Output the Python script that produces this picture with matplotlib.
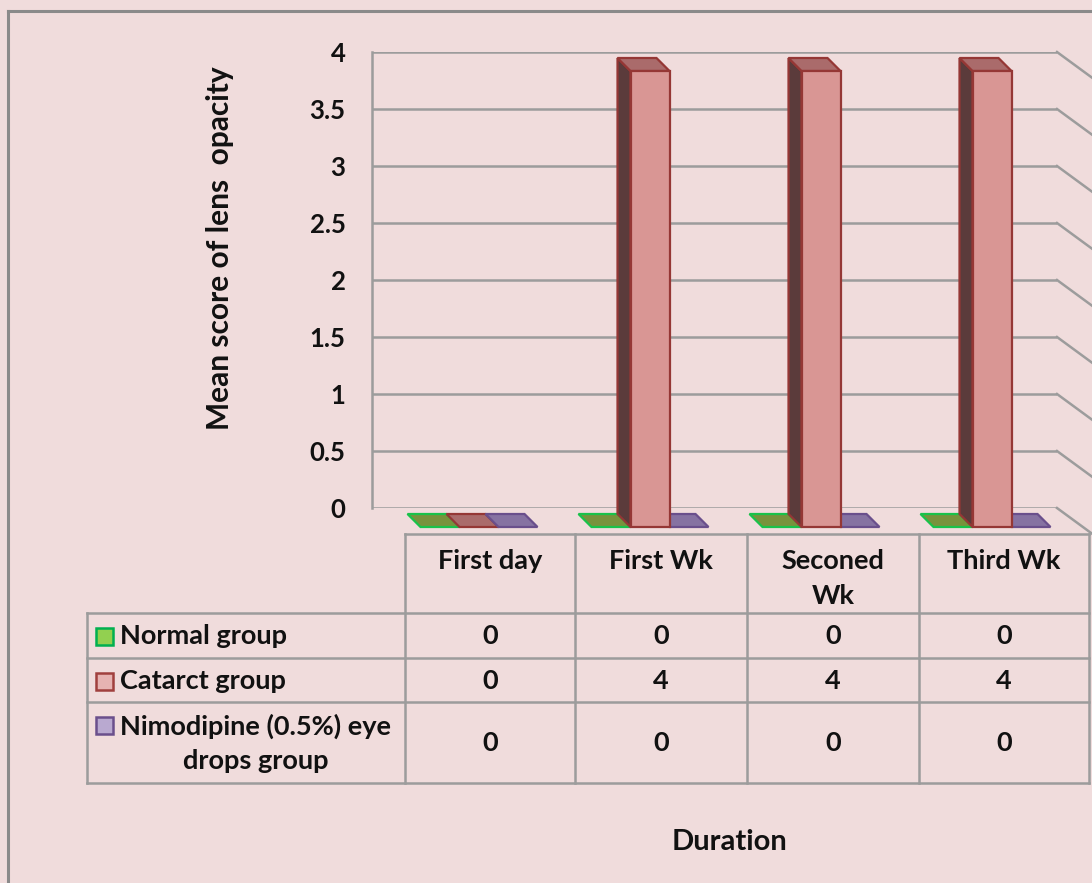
import matplotlib
matplotlib.use("Agg")
import matplotlib.pyplot as plt
from matplotlib.patches import Polygon, Rectangle
from matplotlib.lines import Line2D

# ---- data -------------------------------------------------------------
categories = ["First day", "First Wk", "Seconed\nWk", "Third Wk"]
series_names = ["Normal group", "Catarct group", "Nimodipine (0.5%) eye\ndrops group"]
normal_group = [0, 0, 0, 0]
cataract_group = [0, 4, 4, 4]
nimodipine_group = [0, 0, 0, 0]
y_ticks = [0, 0.5, 1, 1.5, 2, 2.5, 3, 3.5, 4]
y_label = "Mean score of lens  opacity"
x_label = "Duration"

series_values = [normal_group, cataract_group, nimodipine_group]

# ---- styling ----------------------------------------------------------
W, H, DPI = 1092, 883, 100
BG = "#F0DCDC"
GRID = "#9C9C9C"
FONT = ["Lato", "DejaVu Sans"]
FS_TICK = 18.5
FS_TBL = 19.5
FS_YLAB = 21.5
FS_XLAB = 21
TXT = "#111111"

# colours per series: front, side, top, edge, legend-key face
front_c = ["#92D050", "#D99694", "#B3A2C7"]
side_c = ["#3E6B1E", "#5B3B3B", "#4A3C5E"]
top_c = ["#77933C", "#AA6B6B", "#8672A2"]
edge_c = ["#19C24A", "#953735", "#6A4F8C"]
key_face = ["#92D050", "#E6B3B2", "#B9A9D0"]
key_edge = ["#00B050", "#A0403E", "#6A4F8C"]

plt.rcParams["font.family"] = FONT
plt.rcParams["font.weight"] = "bold"

fig = plt.figure(figsize=(W / DPI, H / DPI), dpi=DPI, facecolor=BG)


def fx(px):
    return px / W


def fy(py):
    return 1 - py / H


def fig_line(xs, ys, lw=1.8, color=GRID):
    fig.add_artist(Line2D([fx(x) for x in xs], [fy(y) for y in ys],
                          transform=fig.transFigure, color=color, lw=lw,
                          solid_capstyle="projecting"))


# outer chart frame
fig_line([8, 8], [11, 890], lw=2.2, color="#8A8A8A")
fig_line([8, 1100], [11, 11], lw=2.2, color="#8A8A8A")

# ---- back wall axes -----------------------------------------------------
WALL_L, WALL_R, WALL_T, WALL_B = 372, 1057, 52, 508
PX_X = 171.0                      # pixels per category
PX_Y = (WALL_B - WALL_T) / 4.0    # pixels per score unit

ax = fig.add_axes([fx(WALL_L), fy(WALL_B), (WALL_R - WALL_L) / W, (WALL_B - WALL_T) / H])
ax.set_facecolor("none")
x0 = -(466 - WALL_L) / PX_X
ax.set_xlim(x0, x0 + (WALL_R - WALL_L) / PX_X)
ax.set_ylim(0, 4)
for name, sp in ax.spines.items():
    sp.set_visible(name == "left")
ax.spines["left"].set_color(GRID)
ax.spines["left"].set_linewidth(1.8)
ax.set_xticks([])
ax.set_yticks(y_ticks)
ax.set_yticklabels([f"{t:g}" for t in y_ticks], fontsize=FS_TICK, color=TXT,
                   fontweight="bold")
ax.tick_params(axis="y", length=0, pad=19)

ytrans = ax.get_yaxis_transform()
for t in y_ticks:
    ax.axhline(t, color=GRID, lw=1.8, zorder=1)
    # side wall continuation to the right
    ax.add_line(Line2D([1.0, 1.0 + 45 / (WALL_R - WALL_L)], [t, t - 33 / PX_Y],
                       transform=ytrans, color=GRID, lw=1.8, clip_on=False))

ax.set_ylabel(y_label, fontsize=FS_YLAB, color=TXT, fontweight="bold", labelpad=0)
ax.yaxis.set_label_coords((234 - WALL_L) / (WALL_R - WALL_L), 0.57)

# ---- 3-D style columns --------------------------------------------------
bar_w = 39 / PX_X
dx = 13 / PX_X        # depth shift of front face (right)
dy = -13 / PX_Y       # depth shift of front face (down)
base = -6 / PX_Y      # back edge sits just in front of the wall

for s, vals in enumerate(series_values):
    for i, v in enumerate(vals):
        left = i + (s - 1) * bar_w - bar_w / 2
        right = left + bar_w
        z = 3 + i * 0.01
        if v > 0:
            side = Polygon([(left, base), (left, base + v),
                            (left + dx, base + v + dy), (left + dx, base + dy)],
                           closed=True, facecolor=side_c[s], edgecolor=edge_c[s],
                           lw=1.6, clip_on=False, zorder=z)
            ax.add_patch(side)
        top = Polygon([(left, base + v), (right, base + v),
                       (right + dx, base + v + dy), (left + dx, base + v + dy)],
                      closed=True, facecolor=top_c[s], edgecolor=edge_c[s],
                      lw=1.6, clip_on=False, zorder=z)
        ax.add_patch(top)
        if v > 0:
            ax.bar(left + dx, v, width=bar_w, bottom=base + dy, align="edge",
                   color=front_c[s], edgecolor=edge_c[s], lw=1.6,
                   clip_on=False, zorder=z + 0.001)

# ---- data table -----------------------------------------------------------
col_x = [405, 575, 747, 919, 1089]
row_y = [534, 613, 658, 702, 783]
TBL_L = 87

fig_line([col_x[0], col_x[-1]], [row_y[0], row_y[0]])
for y in row_y[1:]:
    fig_line([TBL_L, col_x[-1]], [y, y])
for x in col_x:
    fig_line([x, x], [row_y[0], row_y[-1]])
fig_line([TBL_L, TBL_L], [row_y[1], row_y[-1]])

# column headers
for i, cat in enumerate(categories):
    cx = (col_x[i] + col_x[i + 1]) / 2
    for k, line in enumerate(cat.split("\n")):
        fig.text(fx(cx), fy(561 + 35 * k), line, ha="center", va="center",
                 fontsize=FS_TBL, color=TXT, fontweight="bold")

# row headers with legend keys, then values
row_centers = [636, 681, 743]
for s, name in enumerate(series_names):
    multi = "\n" in name
    key_y = 725 if multi else row_centers[s]
    fig.add_artist(Rectangle((fx(96), fy(key_y + 8.5)), 17 / W, 17 / H,
                             transform=fig.transFigure, facecolor=key_face[s],
                             edgecolor=key_edge[s], lw=1.8))
    fig.text(fx(120), fy(row_centers[s]), name, ha="left", va="center",
             multialignment="center", linespacing=1.5,
             fontsize=FS_TBL, color=TXT, fontweight="bold")
    for i, v in enumerate(series_values[s]):
        cx = (col_x[i] + col_x[i + 1]) / 2
        fig.text(fx(cx), fy(row_centers[s]), f"{v:g}", ha="center", va="center",
                 fontsize=FS_TBL, color=TXT, fontweight="bold")

fig.text(fx(729), fy(842), x_label, ha="center", va="center",
         fontsize=FS_XLAB, color=TXT, fontweight="bold")

fig.savefig("out.png", dpi=DPI, facecolor=BG)
